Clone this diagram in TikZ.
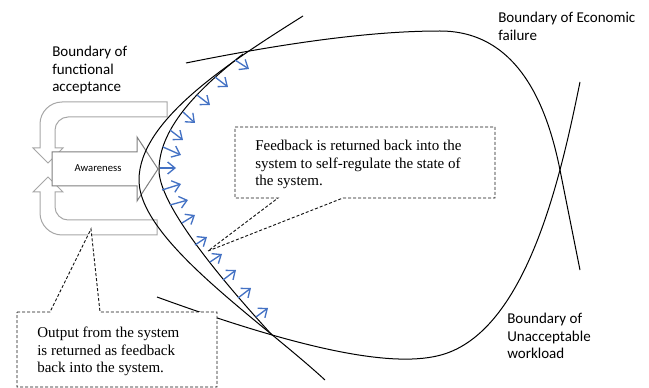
\documentclass[tikz,border=0pt]{standalone}
\usepackage{fontspec}
\setmainfont{Liberation Serif}
\newfontfamily\calibri{Carlito}
\usetikzlibrary{arrows.meta}

\tikzset{
  boundary/.style={line width=0.75},
  loop arrow/.style={draw={rgb, 255:red, 166; green, 166; blue, 166 }, fill=white, line width=0.75},
  aware arrow/.style={draw={rgb, 255:red, 127; green, 127; blue, 127 }, fill=white, line width=0.75},
  regulate/.style={draw={rgb, 255:red, 68; green, 114; blue, 196 }, line width=1, -{Straight Barb[length=5.5pt,width=9pt]}},
  callout/.style={draw={rgb, 255:red, 20; green, 20; blue, 20 }, dash pattern={on 2.25pt off 1.5pt}, line width=0.7, fill=white},
  label/.style={font=\calibri\fontsize{11.25}{13.2}\selectfont, align=left},
  note/.style={font=\fontsize{11.25}{13}\selectfont, align=left}
}

\begin{document}
\begin{tikzpicture}[x=0.75pt,y=0.75pt,yscale=-1,xscale=1]
\useasboundingbox (0,0) rectangle (649,388);

%Shape: Loop Arrow (down)
\draw [loop arrow] (167,102) -- (62,102) .. controls (50,102) and (40,112) .. (40,124) -- (40,148) -- (33,148) -- (48,163) -- (63,148) -- (55,148) -- (55,130) .. controls (55,123) and (61,117) .. (68,117) -- (167,117) -- cycle ;
%Shape: Loop Arrow (up)
\draw [loop arrow] (157,235) -- (62,235) .. controls (50,235) and (40,225) .. (40,213) -- (40,192) -- (33,192) -- (48,177) -- (63,192) -- (55,192) -- (55,207) .. controls (55,214) and (61,220) .. (68,220) -- (157,220) -- cycle ;
%Shape: Right Arrow
\draw [aware arrow] (52,152) -- (137,152) -- (137,137) -- (158,169) -- (137,201) -- (137,186) -- (52,186) -- cycle ;

%Curve Lines: functional acceptance
\draw [boundary] (303,16) .. controls (230,62) and (139,120) .. (139,180) .. controls (139,240) and (260,320) .. (325,380) ;
%Curve Lines: inner boundary
\draw [boundary] (243,54) .. controls (205,84) and (159,125) .. (159,170) .. controls (159,210) and (240,300) .. (272,335) ;
%Curve Lines: economic failure
\draw [boundary] (186,63) .. controls (300,40) and (380,31) .. (440,31) .. controls (520,31) and (548,110) .. (560,170) .. controls (568,210) and (575,245) .. (580,270) ;
%Curve Lines: unacceptable workload
\draw [boundary] (580,82) .. controls (562,170) and (530,320) .. (450,352) .. controls (410,368) and (330,360) .. (157,297) ;

%Straight Lines: regulation arrows
\draw [regulate] (235,60) -- (249,69) ;
\draw [regulate] (215,77) -- (228,87) ;
\draw [regulate] (197,95) -- (210,105) ;
\draw [regulate] (183,112) -- (195,123) ;
\draw [regulate] (170,130) -- (183,140) ;
\draw [regulate] (163,147) -- (181,155) ;
\draw [regulate] (160,168) -- (176,168) ;
\draw [regulate] (162,190) -- (181,184) ;
\draw [regulate] (170,205) -- (188,200) ;
\draw [regulate] (182,223) -- (195,215) ;
\draw [regulate] (195,245) -- (207,237) ;
\draw [regulate] (210,262) -- (222,254) ;
\draw [regulate] (223,280) -- (236,270) ;
\draw [regulate] (238,298) -- (251,288) ;
\draw [regulate] (256,317) -- (268,308) ;

%Shape: Callouts
\coordinate (fbtip) at (208,251) ;
\coordinate (outtip) at (91,229) ;
\draw [callout] (235,127) -- (495,127) -- (495,198) -- (343,198) -- (fbtip) -- (278,198) -- (235,198) -- cycle ;
\draw [callout] (17,312) -- (50,312) -- (outtip) -- (100,312) -- (217,312) -- (217,387) -- (17,387) -- cycle ;

% Text Node
\draw (98,168) node [inner sep=0pt, font=\calibri\fontsize{8}{9.6}\selectfont] (aware) {Awareness};
% Text Node
\draw (52,46) node [anchor=north west][inner sep=0pt, label] (funclbl) {Boundary of\\functional\\acceptance};
% Text Node
\draw (498,12) node [anchor=north west][inner sep=0pt, label] (econlbl) {Boundary of Economic\\failure};
% Text Node
\draw (507,313) node [anchor=north west][inner sep=0pt, label] (worklbl) {Boundary of\\Unacceptable\\workload};
% Text Node
\draw (255,140) node [anchor=north west][inner sep=0pt, note] (fbtext) {Feedback is returned back into the\\system to self-regulate the state of\\the system.};
% Text Node
\draw (37,327) node [anchor=north west][inner sep=0pt, note] (outtext) {Output from the system\\is returned as feedback\\back into the system.};
\end{tikzpicture}
\end{document}
